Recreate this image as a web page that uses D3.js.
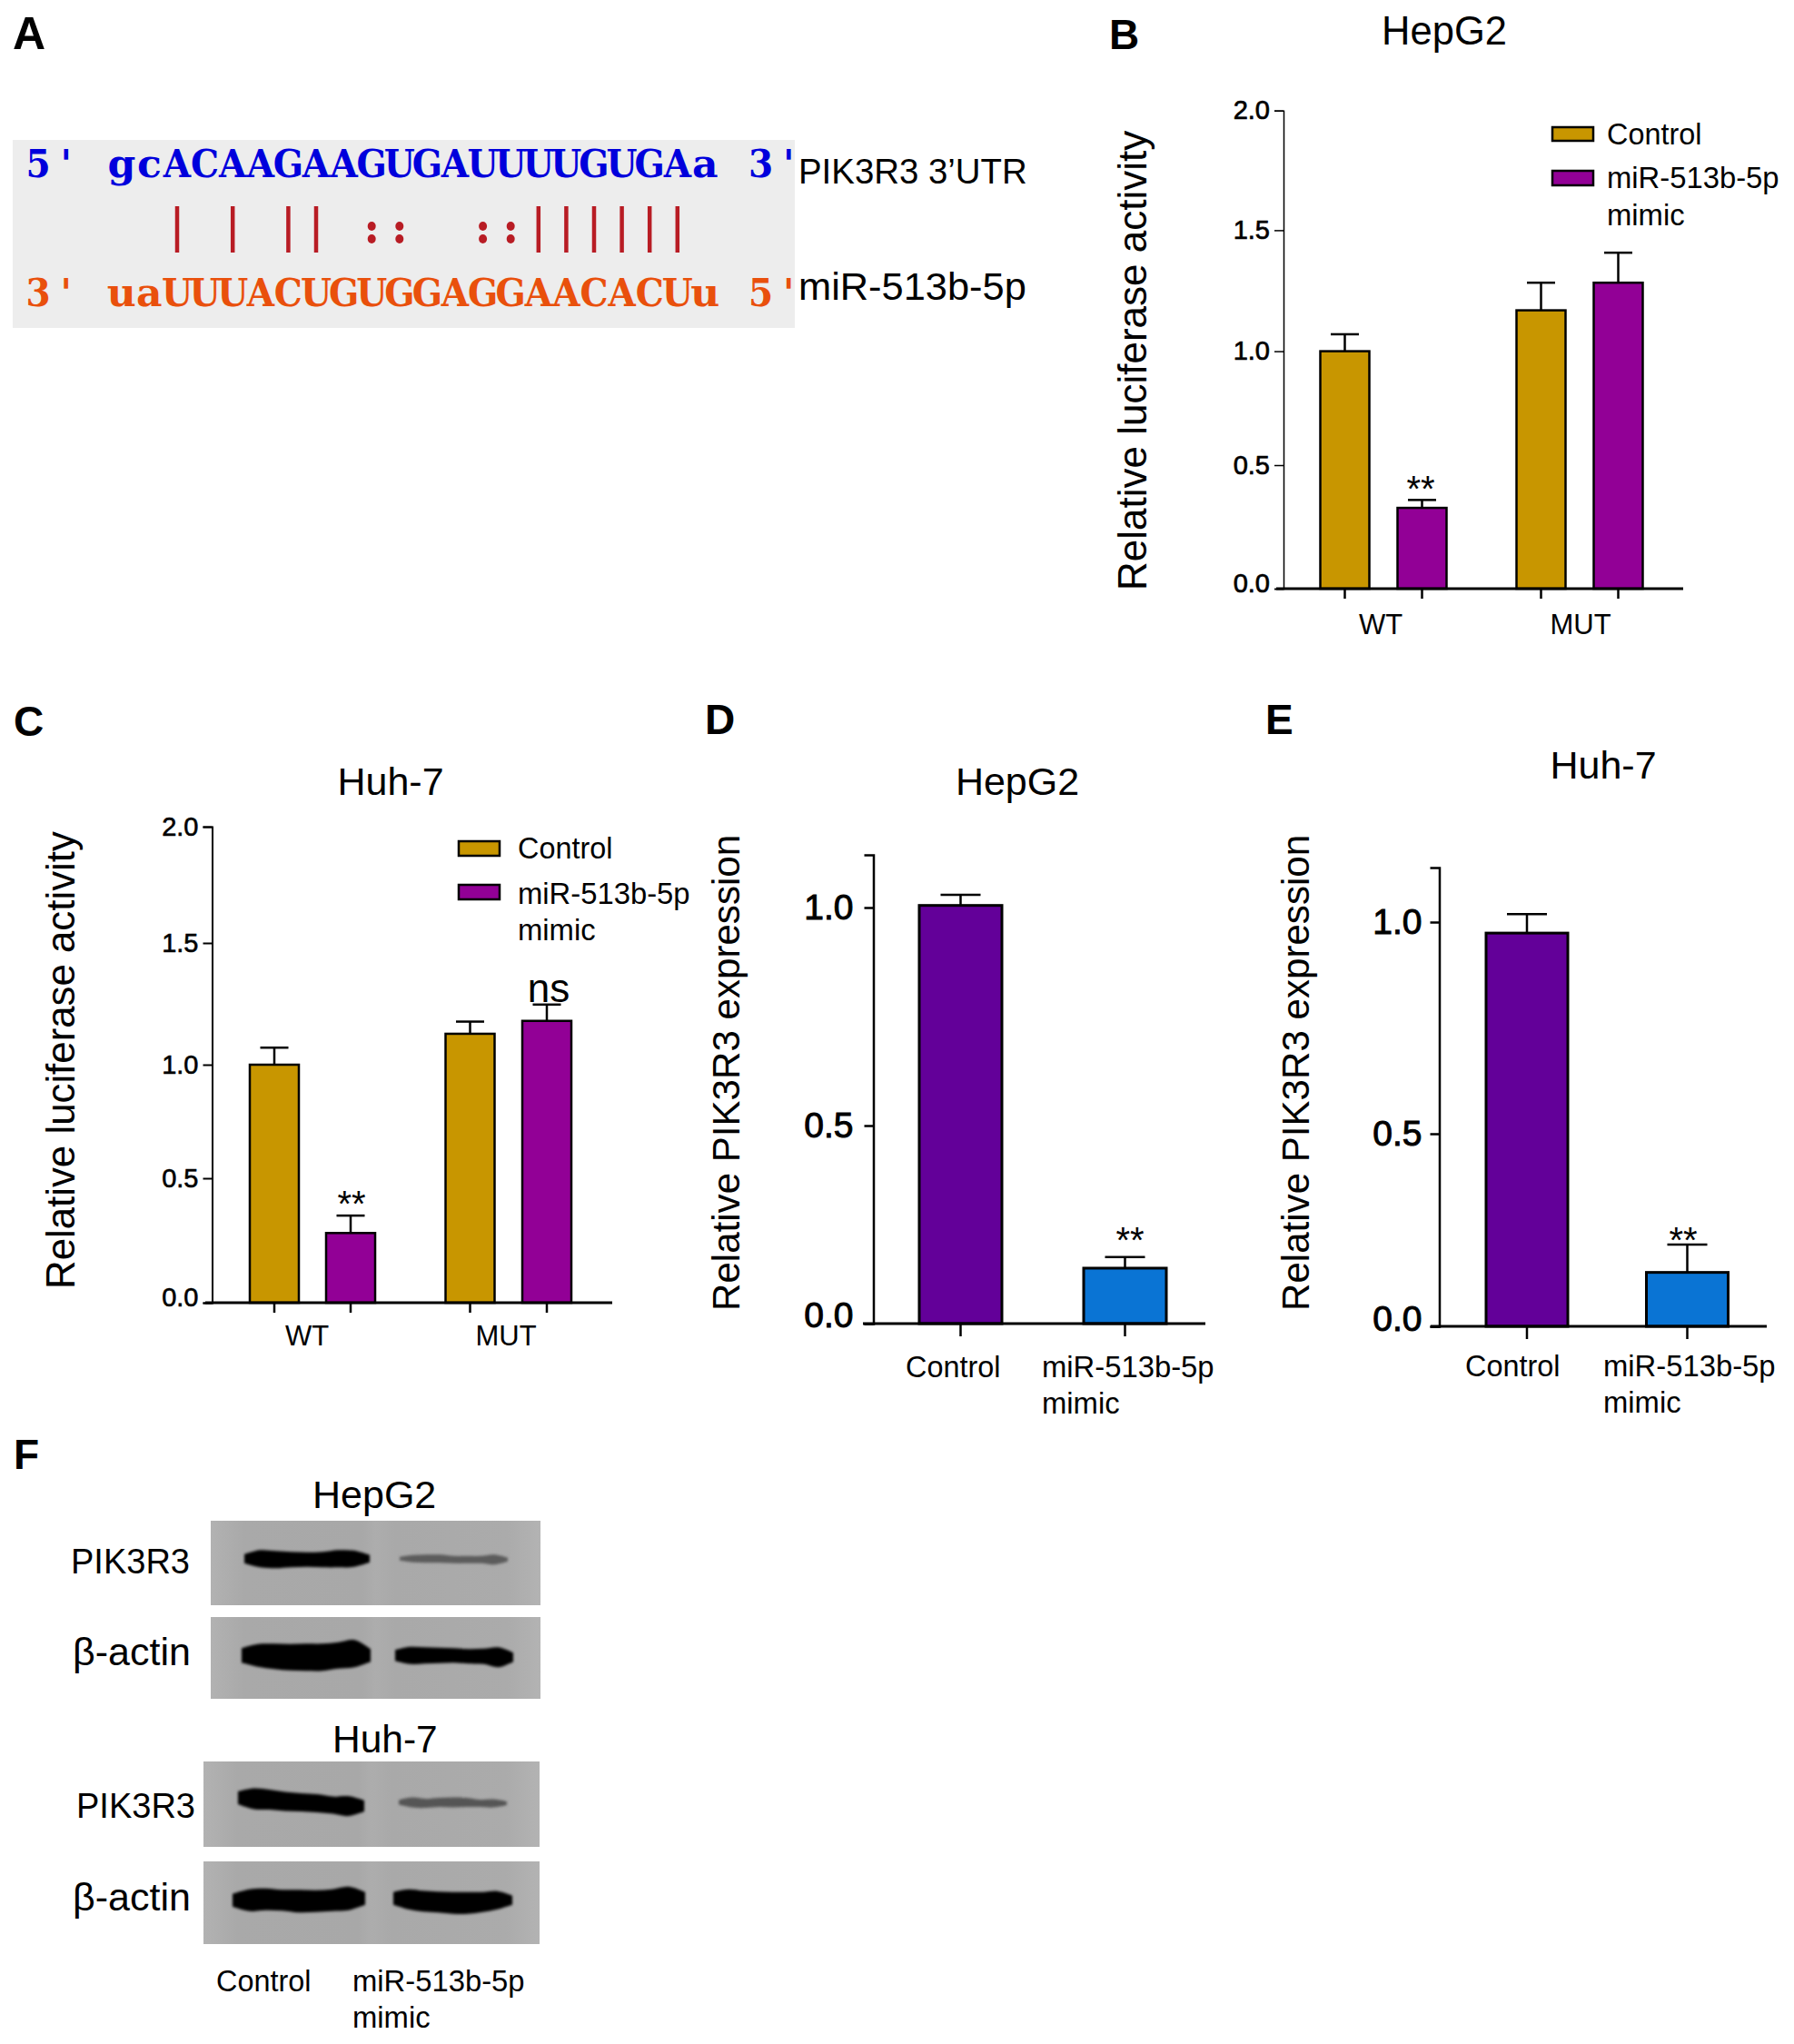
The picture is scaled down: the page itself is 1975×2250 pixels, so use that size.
<!DOCTYPE html>
<html><head><meta charset="utf-8">
<style>
html,body{margin:0;padding:0;background:#fff}
svg{display:block}
text{font-family:"Liberation Sans",Arial,sans-serif}
.pl{font-weight:bold}
.seq{font-family:"DejaVu Serif",serif;font-weight:bold}
</style>
<script src="https://cdnjs.cloudflare.com/ajax/libs/d3/7.8.5/d3.min.js"></script>
</head><body><svg id="c" width="1975" height="2250" viewBox="0 0 1975 2250"></svg>
<script>
// ---------- data ----------
const seqTop = "gcACAAGAAGUGAUUUUGUGAa";
const seqBottom = "uaUUUACUGUGGAGGAACACUu";
const seqPairs = "  | | || ::  ::||||||  ";
const lucGroups = ["WT", "MUT"];
const lucSeries = ["Control", "miR-513b-5p mimic"];
const yTicksLuc = [0, 0.5, 1.0, 1.5, 2.0];
const yTicksExpr = [0, 0.5, 1.0];
const bValues = [1.0, 0.327, 1.169, 1.283];
const bErrTops = [1.07, 0.359, 1.283, 1.407];
const cValues = [1.0, 0.28, 1.127, 1.18];
const cErrTops = [1.07, 0.35, 1.177, 1.247];
const exprGroups = ["Control", "miR-513b-5p mimic"];
const dValues = [1.005, 0.14];
const dErrTops = [1.03, 0.168];
const eValues = [0.974, 0.14];
const eErrTops = [1.026, 0.212];
const blotRows = ["PIK3R3", "β-actin", "PIK3R3", "β-actin"];
// band thickness profile along each lane, read from the blots
const blotControl = [
  [10,19,19,17,16,17,19,18,8],
  [16,25,28,29,30,30,29,30,14],
  [14,23,22,21,20,20,19,22,12],
  [14,24,24,23,25,24,24,26,14]];
const blotMimic = [
  [4,8,9,9,8,8,8,11,4],
  [12,19,18,17,16,16,17,22,10],
  [5,11,10,10,11,10,8,9,4],
  [14,22,23,23,24,24,22,20,10]];
// vertical drift of the band along the lane
const blotDriftControl = [
  [0,0,1,1,1,1,0,0,0],[0,0,1,2,2,2,0,-2,0],[-5,-4,-3,-1,0,1,3,4,4],[0,0,-1,0,1,1,0,-2,-2]];
const blotDriftMimic = [
  [0,0,0,0,1,1,1,1,1],[0,0,0,0,0,1,1,2,2],[0,0,1,0,0,0,1,1,1],[-2,-1,1,2,3,3,2,0,0]];

// ---------- helpers ----------
const svg = d3.select("#c");
const GOLD="#c89600", PURPLE="#920096", VIOLET="#630099", BLUE="#0a74d4";

function txt(g,s,x,y,size,opt={}){
  return g.append("text").attr("x",x).attr("y",y).attr("font-size",size)
    .attr("text-anchor",opt.anchor||"start").attr("class",opt.cls||null)
    .attr("fill",opt.fill||"#000").text(s);
}
function panelLabel(s,x,y,size=46){ txt(svg,s,x,y,size,{cls:"pl"}); }
function yTitle(s,x,y,size){
  svg.append("text").attr("transform",`translate(${x},${y}) rotate(-90)`)
    .attr("font-size",size).attr("fill","#000").text(s);
}
function legendBox(x,y,w,h,c){
  svg.append("rect").attr("x",x).attr("y",y).attr("width",w).attr("height",h).attr("fill",c).attr("stroke","#000").attr("stroke-width",2.5);
}

function barPanel(p){
  const g = svg.append("g");
  const y = d3.scaleLinear().domain(p.yDomain).range(p.yRange);
  const x = d3.scaleOrdinal().domain(d3.range(p.values.length)).range(p.centers);
  const w = p.barW;

  const ax = g.append("g").attr("transform",`translate(${p.axisX},0)`)
    .call(d3.axisLeft(y).tickValues(p.ticks).tickFormat(d3.format(".1f")).tickSizeOuter(0).tickSize(p.tickLen).tickPadding(p.tickPad));
  ax.select(".domain").attr("stroke","#000").attr("stroke-width",p.yAxisW);
  ax.selectAll(".tick line").attr("stroke","#000").attr("stroke-width",p.yAxisW);
  ax.selectAll(".tick text").attr("font-size",p.tickFont).attr("font-family","Liberation Sans")
    .attr("stroke","#000").attr("stroke-width",p.tickStroke).attr("fill","#000")
    .attr("y",d=>d===0?-(p.zeroLift||0):0);

  p.values.forEach((v,i)=>{
    const cx = x(i);
    g.append("line").attr("x1",cx).attr("x2",cx).attr("y1",y(v)).attr("y2",y(p.errTops[i]))
      .attr("stroke","#000").attr("stroke-width",p.errW);
    g.append("line").attr("x1",cx-p.capHalf).attr("x2",cx+p.capHalf).attr("y1",y(p.errTops[i])).attr("y2",y(p.errTops[i]))
      .attr("stroke","#000").attr("stroke-width",p.errW);
  });
  g.selectAll("rect.bar").data(p.values).join("rect").attr("class","bar")
    .attr("x",(d,i)=>x(i)-w/2).attr("width",w)
    .attr("y",d=>y(d)).attr("height",d=>y(0)-y(d))
    .attr("fill",(d,i)=>p.colors[i]).attr("stroke","#000").attr("stroke-width",p.barStroke);

  g.append("line").attr("x1",p.xAxis[0]).attr("x2",p.xAxis[1]).attr("y1",y(0)).attr("y2",y(0))
    .attr("stroke","#000").attr("stroke-width",3);
  p.values.forEach((v,i)=>{
    g.append("line").attr("x1",x(i)).attr("x2",x(i)).attr("y1",y(0)).attr("y2",y(0)+p.xTick)
      .attr("stroke","#000").attr("stroke-width",2.5);
  });
}

// ---------- A ----------
panelLabel("A",14,54,50);
const BLUE_T="#0000dc", ORANGE_T="#e9500c", RED_P="#b81c24";
svg.append("rect").attr("x",14).attr("y",154).attr("width",861).attr("height",207).attr("fill","#ededed");
const rowTop = "5' "+seqTop+" 3'", rowBottom = "3' "+seqBottom+" 5'", rowPairs = "   "+seqPairs;
const seqX = d3.scaleBand().domain(d3.range(rowTop.length)).range([26.7,883.5]);
function seqRow(row,base,col){
  svg.append("g").selectAll("text").data(row.split("")).join("text").attr("class","seq")
    .attr("transform",(c,i)=>`translate(${seqX(i)+seqX.bandwidth()/2},${base}) scale(${/[a-z]/.test(c)?1.05:.93},1)`)
    .attr("text-anchor","middle").attr("font-size",42).attr("fill",col).text(c=>c);
}
seqRow(rowTop,195,BLUE_T);
seqRow(rowBottom,337,ORANGE_T);
rowPairs.split("").forEach((c,i)=>{
  const cx = seqX(i)+seqX.bandwidth()/2;
  if(c==="|") svg.append("line").attr("x1",cx).attr("x2",cx).attr("y1",227).attr("y2",278).attr("stroke",RED_P).attr("stroke-width",4.5);
  if(c===":") [249,263].forEach(cy=>svg.append("ellipse").attr("cx",cx).attr("cy",cy).attr("rx",4.5).attr("ry",5).attr("fill",RED_P));
});
txt(svg,"PIK3R3 3’UTR",879,202,38.4);
txt(svg,"miR-513b-5p",879,330,43.4);

// ---------- B ----------
panelLabel("B",1221,54);
txt(svg,"HepG2",1590,49,43.5,{anchor:"middle"});
yTitle("Relative luciferase activity",1262,650,44);
barPanel({values:bValues,errTops:bErrTops,colors:[GOLD,PURPLE,GOLD,PURPLE],
  yDomain:yTicksLuc,yRange:[648,512,386.6,253.4,121.7],ticks:yTicksLuc,
  centers:[1480.5,1565.5,1696.5,1781.5],barW:54,axisX:1413,xAxis:[1405,1853],
  tickLen:10,tickPad:5,tickFont:29,tickStroke:.7,yAxisW:1.5,errW:2.5,capHalf:15.5,barStroke:2.5,xTick:11,zeroLift:6});
txt(svg,lucGroups[0],1520,698,31,{anchor:"middle"});
txt(svg,lucGroups[1],1740,698,31,{anchor:"middle"});
txt(svg,"**",1564,552,40,{anchor:"middle"});
legendBox(1709,140,45,15,GOLD);
legendBox(1709,188,45,16,PURPLE);
txt(svg,lucSeries[0],1769,159,32.4);
txt(svg,"miR-513b-5p",1769,207,32.8);
txt(svg,"mimic",1769,248,32.8);

// ---------- C ----------
panelLabel("C",15,810);
txt(svg,"Huh-7",430,875,43,{anchor:"middle"});
yTitle("Relative luciferase activity",82,1419,43.8);
barPanel({values:cValues,errTops:cErrTops,colors:[GOLD,PURPLE,GOLD,PURPLE],
  yDomain:yTicksLuc,yRange:[1434,1297,1172,1038,910],ticks:yTicksLuc,
  centers:[302,386,517.5,602],barW:54,axisX:233.5,xAxis:[226,674],
  tickLen:10,tickPad:5,tickFont:29,tickStroke:.6,yAxisW:2,errW:2.5,capHalf:15.5,barStroke:2.5,xTick:11,zeroLift:6});
txt(svg,lucGroups[0],338,1481,31,{anchor:"middle"});
txt(svg,lucGroups[1],557,1481,31,{anchor:"middle"});
txt(svg,"**",387,1339,40,{anchor:"middle"});
txt(svg,"ns",604,1103,44,{anchor:"middle"});
legendBox(505,926,45,16,GOLD);
legendBox(505,974,45,16,PURPLE);
txt(svg,lucSeries[0],570,945,32.4);
txt(svg,"miR-513b-5p",570,995,32.8);
txt(svg,"mimic",570,1035,32.8);

// ---------- D ----------
panelLabel("D",776,808);
txt(svg,"HepG2",1120,875,43,{anchor:"middle"});
yTitle("Relative PIK3R3 expression",814,1443,42.1);
barPanel({values:dValues,errTops:dErrTops,colors:[VIOLET,BLUE],
  yDomain:[0,0.5,1.0,1.125],yRange:[1457,1239,999,941],ticks:yTicksExpr,
  centers:[1057.5,1238.5],barW:91,axisX:961.5,xAxis:[950,1327],
  tickLen:10,tickPad:12,tickFont:39,tickStroke:1,yAxisW:2.5,errW:2.5,capHalf:22,barStroke:3,xTick:14,zeroLift:9});
txt(svg,exprGroups[0],997,1516,32.4);
txt(svg,"miR-513b-5p",1147,1516,32.8);
txt(svg,"mimic",1147,1556,32.8);
txt(svg,"**",1244,1379,40,{anchor:"middle"});

// ---------- E ----------
panelLabel("E",1393,808);
txt(svg,"Huh-7",1765,857,43,{anchor:"middle"});
yTitle("Relative PIK3R3 expression",1441,1443,42.1);
barPanel({values:eValues,errTops:eErrTops,colors:[VIOLET,BLUE],
  yDomain:[0,0.5,1.0,1.18],yRange:[1460,1248,1015,955],ticks:yTicksExpr,
  centers:[1681,1857.5],barW:90,axisX:1584.5,xAxis:[1575,1945],
  tickLen:10,tickPad:9,tickFont:39,tickStroke:1,yAxisW:2.5,errW:2.5,capHalf:22,barStroke:3,xTick:14,zeroLift:8});
txt(svg,exprGroups[0],1613,1515,32.4);
txt(svg,"miR-513b-5p",1765,1515,32.8);
txt(svg,"mimic",1765,1555,32.8);
txt(svg,"**",1853,1379,40,{anchor:"middle"});

// ---------- F ----------
panelLabel("F",15,1617);
const defs = svg.append("defs");
defs.append("filter").attr("id","bl").attr("x","-10%").attr("y","-60%").attr("width","120%").attr("height","220%")
  .append("feGaussianBlur").attr("stdDeviation",1.8);
const lane = defs.append("linearGradient").attr("id","lane");
[[0,"#b2b2b2"],[.1,"#a9a9a9"],[.46,"#a8a8a8"],[.5,"#adadad"],[.56,"#a9a9a9"],[.9,"#ababab"],[1,"#b3b3b3"]]
  .forEach(([o,c])=>lane.append("stop").attr("offset",o).attr("stop-color",c));
const blots = [
  {x:232,w:363,y:1674,h:93,c:[269,407],m:[440,559],mid:.45,mmc:"#5c5c5c"},
  {x:232,w:363,y:1780,h:90,c:[266,408],m:[435,565],mid:.47,mmc:"#000"},
  {x:224,w:370,y:1939,h:94,c:[262,401],m:[439,558],mid:.48,mmc:"#555"},
  {x:224,w:370,y:2049,h:91,c:[256,402],m:[433,564],mid:.47,mmc:"#000"}
];
blots.forEach((b,k)=>{
  svg.append("rect").attr("x",b.x).attr("y",b.y).attr("width",b.w).attr("height",b.h).attr("fill","url(#lane)");
  [[b.c,blotControl[k],blotDriftControl[k],"#000"],[b.m,blotMimic[k],blotDriftMimic[k],b.mmc]].forEach(([ext,prof,dr,col])=>{
    const px = d3.scaleLinear().domain([0,prof.length-1]).range(ext);
    const cy = b.y+b.h*b.mid;
    const area = d3.area().x((d,i)=>px(i)).y0((d,i)=>cy+dr[i]-d/2).y1((d,i)=>cy+dr[i]+d/2).curve(d3.curveCatmullRom);
    svg.append("path").attr("d",area(prof)).attr("fill",col).attr("filter","url(#bl)");
  });
});
txt(svg,"HepG2",344,1660,43);
txt(svg,blotRows[0],78,1732,38);
txt(svg,blotRows[1],80,1833,43);
txt(svg,"Huh-7",366,1929,42.5);
txt(svg,blotRows[2],84,2001,38);
txt(svg,blotRows[3],80,2103,43);
txt(svg,exprGroups[0],238,2192,32.4);
txt(svg,"miR-513b-5p",388,2192,32.8);
txt(svg,"mimic",388,2232,32.8);
</script></body></html>
